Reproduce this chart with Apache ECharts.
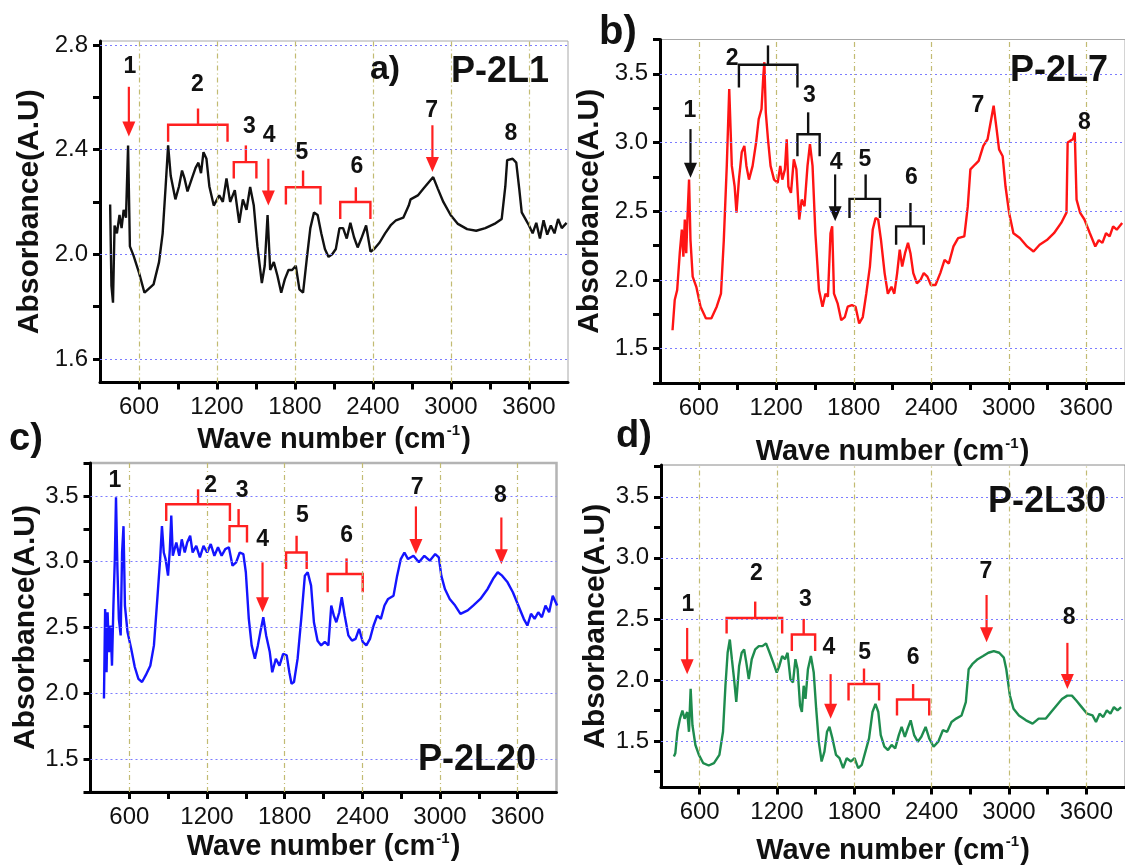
<!DOCTYPE html>
<html>
<head>
<meta charset="utf-8">
<script src="https://cdn.jsdelivr.net/npm/echarts@6/dist/echarts.min.js"></script>
<style>
  html, body { margin: 0; padding: 0; background: #fff; }
  #chart { width: 1125px; height: 866px; }
</style>
</head>
<body>
<div id="chart"></div>
<script>
// FTIR spectra: [wave number (cm-1), absorbance (A.U)]
const spectrumA = [[378,2.19],[388,1.88],[400,1.815],[412,2.11],[430,2.08],[450,2.15],[466,2.10],[482,2.17],[500,2.14],[516,2.416],[530,2.03],[558,1.995],[600,1.93],[642,1.853],[670,1.866],[712,1.885],[754,1.97],[782,2.08],[805,2.26],[824,2.416],[844,2.30],[880,2.21],[908,2.26],[931,2.32],[950,2.29],[973,2.24],[1007,2.29],[1035,2.33],[1057,2.35],[1077,2.31],[1096,2.39],[1119,2.365],[1141,2.26],[1175,2.186],[1217,2.225],[1245,2.20],[1273,2.29],[1301,2.20],[1337,2.245],[1371,2.12],[1399,2.21],[1427,2.17],[1455,2.257],[1483,2.186],[1511,2.03],[1545,1.89],[1567,1.956],[1589,2.15],[1609,1.94],[1637,1.97],[1665,1.918],[1694,1.853],[1722,1.905],[1750,1.94],[1778,1.94],[1806,1.956],[1834,1.866],[1862,1.853],[1890,1.98],[1918,2.10],[1946,2.16],[1974,2.15],[2002,2.08],[2030,2.02],[2058,1.99],[2086,2.00],[2114,2.02],[2142,2.10],[2170,2.10],[2198,2.06],[2226,2.12],[2254,2.065],[2282,2.026],[2310,2.06],[2347,2.11],[2381,2.01],[2409,2.02],[2451,2.045],[2493,2.08],[2535,2.11],[2577,2.13],[2633,2.14],[2675,2.186],[2689,2.21],[2745,2.225],[2787,2.25],[2829,2.275],[2863,2.295],[2899,2.25],[2941,2.20],[2997,2.15],[3053,2.116],[3124,2.096],[3194,2.09],[3264,2.10],[3334,2.116],[3390,2.135],[3418,2.26],[3432,2.36],[3474,2.365],[3502,2.35],[3525,2.25],[3544,2.16],[3572,2.135],[3600,2.11],[3628,2.08],[3656,2.12],[3684,2.06],[3712,2.13],[3740,2.075],[3768,2.11],[3796,2.08],[3824,2.135],[3852,2.10],[3889,2.12]];

const spectrumB = [[397,1.634],[414,1.854],[433,1.927],[453,2.195],[469,2.366],[481,2.17],[492,2.44],[503,2.195],[514,2.49],[525,2.73],[536,2.29],[553,2.024],[581,1.95],[614,1.805],[656,1.72],[697,1.72],[739,1.805],[772,1.90],[794,2.29],[817,2.83],[836,3.39],[856,2.83],[878,2.68],[892,2.49],[911,2.73],[933,2.93],[953,2.976],[969,2.83],[989,2.73],[1017,2.83],[1044,3.0],[1064,3.17],[1086,3.244],[1100,3.488],[1108,3.585],[1119,3.22],[1136,3.024],[1156,2.83],[1183,2.73],[1211,2.707],[1231,2.83],[1247,2.73],[1267,2.805],[1281,3.024],[1294,2.68],[1314,2.634],[1336,2.878],[1356,2.805],[1378,2.44],[1397,2.585],[1419,2.537],[1442,2.83],[1461,2.988],[1481,2.83],[1503,2.34],[1531,1.927],[1558,1.805],[1581,1.90],[1600,1.878],[1620,2.34],[1633,2.39],[1647,1.90],[1675,1.83],[1703,1.707],[1731,1.73],[1753,1.805],[1786,1.817],[1814,1.805],[1842,1.683],[1870,1.73],[1897,1.90],[1925,2.097],[1947,2.366],[1969,2.45],[1989,2.44],[2011,2.29],[2039,2.05],[2064,1.90],[2092,1.95],[2114,1.90],[2136,2.05],[2156,2.22],[2175,2.097],[2197,2.195],[2220,2.27],[2239,2.195],[2261,2.05],[2289,1.976],[2317,2.0],[2342,2.05],[2370,2.024],[2397,1.963],[2433,1.963],[2470,2.05],[2503,2.146],[2536,2.12],[2572,2.244],[2608,2.305],[2656,2.317],[2683,2.537],[2703,2.805],[2739,2.84],[2767,2.866],[2803,2.976],[2836,3.024],[2864,3.17],[2883,3.268],[2906,3.098],[2925,2.95],[2953,2.90],[2975,2.68],[3003,2.488],[3036,2.34],[3086,2.305],[3142,2.244],[3192,2.207],[3239,2.256],[3295,2.29],[3350,2.34],[3406,2.415],[3447,2.49],[3456,3.0],[3475,3.012],[3497,3.024],[3511,3.073],[3525,2.585],[3553,2.488],[3586,2.44],[3628,2.34],[3670,2.244],[3697,2.29],[3725,2.27],[3753,2.34],[3781,2.317],[3808,2.39],[3836,2.366],[3878,2.415]];

const spectrumC = [[404,1.96],[413,2.64],[424,2.16],[432,2.616],[443,2.313],[455,2.515],[466,2.21],[477,2.667],[488,3.02],[497,3.49],[508,2.944],[519,2.566],[533,2.44],[544,3.07],[555,3.27],[566,2.667],[586,2.465],[614,2.34],[642,2.20],[670,2.11],[698,2.086],[726,2.136],[762,2.21],[790,2.364],[818,2.742],[838,3.02],[852,3.27],[866,3.07],[880,3.02],[899,2.894],[913,3.096],[924,3.35],[936,3.045],[963,3.146],[986,3.045],[1005,3.17],[1028,3.07],[1047,3.146],[1070,3.197],[1089,3.07],[1117,3.12],[1145,3.033],[1173,3.12],[1201,3.07],[1229,3.134],[1257,3.045],[1285,3.11],[1313,3.045],[1341,3.096],[1369,3.11],[1397,2.97],[1425,2.995],[1453,3.07],[1481,3.058],[1500,2.92],[1523,2.566],[1545,2.364],[1570,2.263],[1593,2.364],[1612,2.465],[1635,2.578],[1657,2.44],[1685,2.313],[1704,2.16],[1732,2.263],[1760,2.21],[1788,2.30],[1816,2.288],[1836,2.16],[1853,2.073],[1872,2.086],[1900,2.263],[1928,2.566],[1956,2.894],[1978,2.92],[2004,2.818],[2026,2.54],[2054,2.40],[2082,2.364],[2110,2.39],[2138,2.364],[2160,2.667],[2180,2.59],[2199,2.54],[2222,2.616],[2241,2.73],[2264,2.59],[2292,2.44],[2320,2.40],[2348,2.414],[2375,2.49],[2403,2.39],[2431,2.364],[2459,2.414],[2487,2.515],[2515,2.59],[2543,2.566],[2571,2.667],[2599,2.717],[2641,2.742],[2669,2.894],[2697,3.02],[2725,3.07],[2753,3.02],[2795,3.045],[2837,2.995],[2879,3.045],[2921,3.008],[2963,3.058],[2991,3.033],[3010,2.894],[3038,2.793],[3075,2.717],[3117,2.667],[3158,2.604],[3214,2.63],[3256,2.667],[3312,2.717],[3368,2.793],[3410,2.87],[3446,2.92],[3480,2.894],[3522,2.843],[3563,2.768],[3605,2.667],[3647,2.566],[3675,2.515],[3703,2.604],[3731,2.566],[3759,2.616],[3787,2.578],[3815,2.667],[3843,2.616],[3871,2.742],[3905,2.667]];

const spectrumD = [[400,1.373],[411,1.40],[427,1.576],[447,1.683],[466,1.75],[483,1.683],[503,1.738],[517,1.576],[530,1.927],[544,1.63],[567,1.468],[594,1.387],[628,1.319],[670,1.30],[711,1.319],[753,1.387],[781,1.576],[800,1.953],[817,2.223],[834,2.331],[850,2.17],[867,2.007],[884,1.82],[906,2.115],[926,2.223],[945,2.25],[962,2.142],[981,2.007],[1004,2.17],[1031,2.25],[1059,2.277],[1087,2.277],[1115,2.30],[1143,2.223],[1171,2.142],[1198,2.061],[1218,2.115],[1240,2.196],[1262,2.17],[1282,2.223],[1304,2.007],[1324,1.98],[1343,2.17],[1360,2.088],[1379,1.79],[1393,1.738],[1407,1.953],[1421,1.845],[1440,2.088],[1463,2.196],[1485,2.061],[1504,1.765],[1524,1.495],[1546,1.333],[1568,1.414],[1588,1.576],[1607,1.616],[1630,1.522],[1658,1.387],[1685,1.36],[1713,1.279],[1741,1.36],[1774,1.333],[1802,1.36],[1830,1.279],[1858,1.306],[1886,1.414],[1914,1.522],[1941,1.738],[1964,1.805],[1986,1.738],[2005,1.549],[2033,1.454],[2061,1.427],[2089,1.468],[2117,1.44],[2145,1.549],[2167,1.616],[2192,1.535],[2214,1.603],[2237,1.67],[2264,1.549],[2292,1.495],[2320,1.535],[2353,1.616],[2381,1.522],[2415,1.454],[2451,1.495],[2487,1.589],[2520,1.576],[2554,1.657],[2590,1.684],[2632,1.71],[2665,1.818],[2687,2.088],[2715,2.129],[2757,2.17],[2799,2.196],[2840,2.223],[2882,2.237],[2924,2.223],[2960,2.183],[2979,2.088],[3007,1.873],[3035,1.765],[3077,1.71],[3132,1.67],[3183,1.643],[3230,1.684],[3286,1.684],[3327,1.738],[3369,1.792],[3411,1.845],[3452,1.872],[3488,1.872],[3522,1.832],[3564,1.778],[3606,1.724],[3648,1.71],[3675,1.657],[3703,1.724],[3731,1.697],[3759,1.751],[3787,1.724],[3814,1.778],[3842,1.751],[3870,1.778]];

// band annotations: arrows [x, yStart, yTip]; brackets [xLeft, xRight, xStem, yBar, yLegEnd, yStemTop]; numbers [x, y]
const arrowsA = [[522,2.64,2.45],[1595,2.365,2.186],[2857,2.493,2.314]];
const bracketsA = [[824,1281,1054,2.495,2.43,2.557],[1329,1503,1422,2.352,2.29,2.416],[1730,1996,1862,2.256,2.19,2.32],[2148,2380,2268,2.20,2.135,2.256]];
const numPosA = [[530,2.717],[1049,2.65],[1450,2.486],[1601,2.455],[1853,2.388],[2277,2.333],[2852,2.55],[3460,2.46]];

const arrowsB = [[536,3.098,2.744],[1656,2.768,2.427]];
const bracketsB = [[911,1364,1136,3.566,3.40,3.707],[1364,1536,1447,3.06,2.90,3.22],[1767,2003,1892,2.59,2.45,2.768],[2128,2342,2239,2.39,2.256,2.56]];
const numPosB = [[531,3.232],[858,3.61],[1456,3.34],[1664,2.854],[1886,2.878],[2247,2.744],[2761,3.27],[3586,3.146]];

const arrowsC = [[1629,2.995,2.616],[2814,3.42,3.058],[3474,3.336,2.98]];
const bracketsC = [[885,1377,1131,3.437,3.31,3.55],[1374,1509,1444,3.27,3.146,3.40],[1811,1970,1892,3.07,2.944,3.197],[2132,2403,2278,2.907,2.768,3.025]];
const numPosC = [[488,3.614],[1229,3.576],[1472,3.538],[1629,3.17],[1936,3.35],[2278,3.197],[2823,3.56],[3466,3.5]];

const arrowsD = [[503,2.426,2.048],[1616,2.048,1.683],[2826,2.696,2.31],[3453,2.304,1.926]];
const bracketsD = [[809,1240,1031,2.507,2.38,2.642],[1315,1496,1407,2.372,2.237,2.50],[1755,1992,1875,1.967,1.832,2.094],[2131,2381,2256,1.84,1.71,1.967]];
const numPosD = [[508,2.615],[1040,2.871],[1421,2.655],[1602,2.264],[1880,2.223],[2256,2.183],[2821,2.885],[3467,2.507]];

const bandNames = ['1','2','3','4','5','6','7','8'];

// axis ticks and labelled values
const xTickStep = 300;
const xLabels = [600,1200,1800,2400,3000,3600];
const yTicksA = [1.6,1.8,2.0,2.2,2.4,2.6,2.8];
const yLabelsA = [1.6,2.0,2.4,2.8];
const yTicksBCD = [1.25,1.5,1.75,2.0,2.25,2.5,2.75,3.0,3.25,3.5,3.75];
const yLabelsBCD = [1.5,2.0,2.5,3.0,3.5];

const sampleNames = ['P-2L1','P-2L7','P-2L20','P-2L30'];
const panelTags = ['a)','b)','c)','d)'];

const FONT = "'Liberation Sans', Arial, sans-serif";

const panels = [
  { data: spectrumA, color: '#111111', mark: '#ff2020', arrows: arrowsA, brackets: bracketsA, nums: numPosA,
    grid: { left: 100, top: 41, width: 468, height: 341.5 }, yMin: 1.51, yMax: 2.815, yTicks: yTicksA, yLabels: yLabelsA,
    yNameGap: 55, xNameGap: 41, border: { color: '#a8a8a8', width: 1 } },
  { data: spectrumB, color: '#ff1414', mark: '#111111', arrows: arrowsB, brackets: bracketsB, nums: numPosB,
    grid: { left: 660, top: 39.5, width: 468, height: 343.5 }, yMin: 1.25, yMax: 3.75, yTicks: yTicksBCD, yLabels: yLabelsBCD,
    yNameGap: 55, xNameGap: 53, border: { color: '#a8a8a8', width: 1 } },
  { data: spectrumC, color: '#1414ff', mark: '#ff2020', arrows: arrowsC, brackets: bracketsC, nums: numPosC,
    grid: { left: 90.5, top: 463, width: 466, height: 329 }, yMin: 1.25, yMax: 3.75, yTicks: yTicksBCD, yLabels: yLabelsBCD,
    yNameGap: 50, xNameGap: 39, border: { color: '#b4b4b4', width: 2.5 } },
  { data: spectrumD, color: '#1e8c4e', mark: '#ff2020', arrows: arrowsD, brackets: bracketsD, nums: numPosD,
    grid: { left: 661, top: 465, width: 468, height: 327 }, yMin: 1.12, yMax: 3.76, yTicks: yTicksBCD, yLabels: yLabelsBCD,
    yNameGap: 50, xNameGap: 47, border: { color: '#8a8a8a', width: 1 } }
];

const tagPos = [[385, 70, 34], [618, 33, 40], [26, 440, 38], [634, 437, 38]];
const namePos = [[500, 72], [1059, 71], [477, 760], [1047, 502]];

function arrowItem(color) {
  return function (params, api) {
    const x = api.value(0);
    const p0 = api.coord([x, api.value(1)]);
    const p1 = api.coord([x, api.value(2)]);
    const head = 15, half = 6.5;
    return {
      type: 'group',
      children: [
        { type: 'line', shape: { x1: p0[0], y1: p0[1], x2: p1[0], y2: p1[1] - head + 2 },
          style: { stroke: color, lineWidth: 2.2 } },
        { type: 'polygon', shape: { points: [[p1[0] - half, p1[1] - head], [p1[0] + half, p1[1] - head], [p1[0], p1[1]]] },
          style: { fill: color } }
      ]
    };
  };
}

function bracketItem(color) {
  return function (params, api) {
    const xl = api.value(0), xr = api.value(1), xs = api.value(2);
    const yb = api.value(3), yl = api.value(4), yt = api.value(5);
    const pts = [api.coord([xl, yl]), api.coord([xl, yb]), api.coord([xr, yb]), api.coord([xr, yl])];
    const s0 = api.coord([xs, yb]), s1 = api.coord([xs, yt]);
    return {
      type: 'group',
      children: [
        { type: 'polyline', shape: { points: pts }, style: { stroke: color, lineWidth: 2.4, fill: null } },
        { type: 'line', shape: { x1: s0[0], y1: s0[1], x2: s1[0], y2: s1[1] }, style: { stroke: color, lineWidth: 2.4 } }
      ]
    };
  };
}

function numItem(params, api) {
  const p = api.coord([api.value(0), api.value(1)]);
  return {
    type: 'text', x: p[0], y: p[1],
    style: { text: bandNames[params.dataIndex], fill: '#111', font: 'bold 23px ' + FONT, align: 'center', verticalAlign: 'middle' }
  };
}

const grids = [], xAxes = [], yAxes = [], series = [], graphics = [];

panels.forEach(function (p, i) {
  grids.push(Object.assign({ show: true, borderColor: p.border.color, borderWidth: p.border.width, backgroundColor: 'transparent' }, p.grid));
  xAxes.push({
    type: 'value', gridIndex: i, min: 300, max: 3900, interval: xTickStep,
    name: '{t|Wave number (cm}{s|-1}{t|)}', nameLocation: 'middle', nameGap: p.xNameGap,
    nameTextStyle: {
      rich: {
        t: { fontFamily: FONT, fontWeight: 'bold', fontSize: 29, color: '#111', lineHeight: 32 },
        s: { fontFamily: FONT, fontWeight: 'bold', fontSize: 15, color: '#111', lineHeight: 32, verticalAlign: 'top', padding: [0, 1, 12, 1] }
      }
    },
    axisLine: { show: true, onZero: false, lineStyle: { color: '#000', width: 3 } },
    axisTick: { show: true, length: 7, lineStyle: { color: '#000', width: 3 } },
    axisLabel: { margin: 13, fontFamily: FONT, fontSize: 24, color: '#111', showMinLabel: false, showMaxLabel: false,
      formatter: function (v) { return xLabels.indexOf(Math.round(v)) >= 0 ? String(Math.round(v)) : ''; } },
    splitLine: { show: false }
  });
  yAxes.push({
    type: 'value', gridIndex: i, min: p.yMin, max: p.yMax,
    name: 'Absorbance(A.U)', nameLocation: 'middle', nameRotate: 90, nameGap: p.yNameGap,
    nameTextStyle: { fontFamily: FONT, fontWeight: 'bold', fontSize: 30, color: '#111' },
    axisLine: { show: true, onZero: false, lineStyle: { color: '#000', width: 3 } },
    axisTick: { show: true, length: 7, lineStyle: { color: '#000', width: 3 }, customValues: p.yTicks },
    axisLabel: { customValues: p.yLabels, margin: 12, fontFamily: FONT, fontSize: 24, color: '#111',
      formatter: function (v) { return v.toFixed(1); } },
    splitLine: { show: false }
  });

  // reference grid lines, kept under the spectrum
  series.push({
    type: 'line', xAxisIndex: i, yAxisIndex: i, data: p.data, showSymbol: false, silent: true, z: 1,
    lineStyle: { opacity: 0 },
    markLine: {
      silent: true, symbol: ['none', 'none'], label: { show: false }, animation: false,
      data: p.yLabels.map(function (v) {
        return { yAxis: v, lineStyle: { color: '#7c7cff', type: [2, 3], width: 1.2 } };
      }).concat(xLabels.map(function (v) {
        return { xAxis: v, lineStyle: { color: '#c2bb72', type: [5, 3, 1, 3], width: 1.2 } };
      }))
    }
  });

  series.push({
    type: 'line', xAxisIndex: i, yAxisIndex: i, data: p.data, showSymbol: false, z: 3,
    lineStyle: { color: p.color, width: 2.4 }, clip: true
  });

  series.push({
    type: 'custom', xAxisIndex: i, yAxisIndex: i, data: p.brackets, z: 4,
    encode: { x: [0, 1, 2], y: [3, 4, 5] }, renderItem: bracketItem(p.mark), silent: true
  });
  series.push({
    type: 'custom', xAxisIndex: i, yAxisIndex: i, data: p.arrows, z: 4,
    encode: { x: 0, y: [1, 2] }, renderItem: arrowItem(p.mark), silent: true
  });
  series.push({
    type: 'custom', xAxisIndex: i, yAxisIndex: i, data: p.nums, z: 5,
    encode: { x: 0, y: 1 }, renderItem: numItem, silent: true
  });

  graphics.push({
    type: 'text', x: tagPos[i][0], y: tagPos[i][1], z: 10,
    style: { text: panelTags[i], font: 'bold ' + tagPos[i][2] + 'px ' + FONT, fill: '#111', align: 'center', verticalAlign: 'middle' }
  });
  graphics.push({
    type: 'text', x: namePos[i][0], y: namePos[i][1], z: 10,
    style: { text: sampleNames[i], font: 'bold 36px ' + FONT, fill: '#111', align: 'center', verticalAlign: 'middle' }
  });
});

const chart = echarts.init(document.getElementById('chart'), null, { renderer: 'canvas' });
chart.setOption({
  animation: false,
  backgroundColor: '#ffffff',
  grid: grids,
  xAxis: xAxes,
  yAxis: yAxes,
  series: series,
  graphic: graphics
});
</script>
</body>
</html>
